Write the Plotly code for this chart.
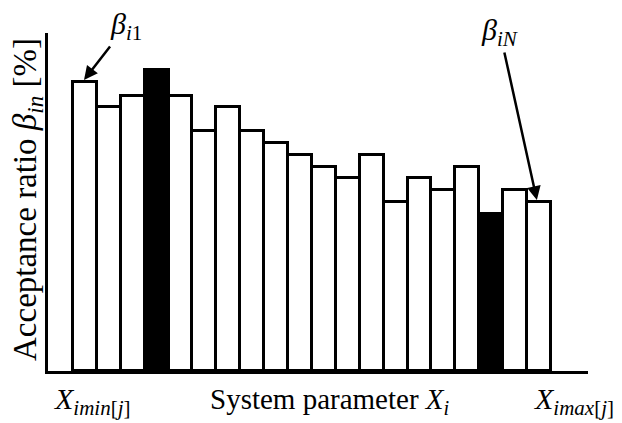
import plotly.graph_objects as go

# Data (acceptance ratio, % of axis height)
positions = list(range(1, 21))
ratios = [85.5, 78, 81.5, 89, 81.5, 71, 78, 71, 67.5, 64,
          60.5, 57, 64, 50, 57, 53.5, 60.5, 46.5, 53.5, 50]
highlight = [4, 18]  # black bars

fill_colors = ["black" if p in highlight else "white" for p in positions]

fig = go.Figure()
fig.add_trace(go.Bar(
    x=positions, y=ratios,
    marker=dict(color=fill_colors, line=dict(color="black", width=3)),
    width=1.0, showlegend=False, hoverinfo="skip",
))

FONT = "Liberation Serif"

# page has an 8px body margin: figure is shifted by 8px, so compensate
fig.update_layout(
    width=614, height=415,
    margin=dict(l=40, r=34, t=25, b=52),
    paper_bgcolor="white", plot_bgcolor="white",
    bargap=0,
    font=dict(family=FONT, color="black", size=29),
    xaxis=dict(range=[-0.546, 22.05], showline=True, linecolor="black", linewidth=3,
               showticklabels=False, ticks="", showgrid=False, zeroline=False),
    yaxis=dict(range=[0, 100], showline=True, linecolor="black", linewidth=3,
               showticklabels=False, ticks="", showgrid=False, zeroline=False),
)

# Arrow annotations for first and last bars
fig.add_annotation(x=positions[0] - 0.04, y=86.1, xref="x", yref="y",
                   text="<i>β<sub>i</sub></i><sub>1</sub>", showarrow=True,
                   ax=42, ay=-54, arrowhead=2, arrowsize=1.1, arrowwidth=2.5,
                   arrowcolor="black", xanchor="center", yanchor="middle",
                   font=dict(size=30, family=FONT))
fig.add_annotation(x=positions[-1] - 0.09, y=50.6, xref="x", yref="y",
                   text="<i>β<sub>iN</sub></i>", showarrow=True,
                   ax=-37, ay=-168, arrowhead=2, arrowsize=1.1, arrowwidth=2.5,
                   arrowcolor="black", xanchor="center", yanchor="middle",
                   font=dict(size=30, family=FONT))

# Axis labels (positions in plot-area fractions)
def px(xp):
    return (xp - 48) / 540

def py(yp):
    return (371 - yp) / 338

fig.add_annotation(x=px(27), y=py(200), xref="paper", yref="paper",
                   text="Acceptance ratio <i>β<sub>in</sub></i> [%]", textangle=-90,
                   xanchor="center", yanchor="middle",
                   showarrow=False, font=dict(size=33, family=FONT))
fig.add_annotation(x=px(92), y=py(401), xref="paper", yref="paper",
                   text="<i>X<sub>imin</sub></i><sub>[<i>j</i>]</sub>",
                   xanchor="center", yanchor="middle",
                   showarrow=False, font=dict(size=30, family=FONT))
fig.add_annotation(x=px(330), y=py(401), xref="paper", yref="paper",
                   text="System parameter <i>X<sub>i</sub></i>",
                   xanchor="center", yanchor="middle",
                   showarrow=False, font=dict(size=29, family=FONT))
fig.add_annotation(x=px(574), y=py(401), xref="paper", yref="paper",
                   text="<i>X<sub>imax</sub></i><sub>[<i>j</i>]</sub>",
                   xanchor="center", yanchor="middle",
                   showarrow=False, font=dict(size=30, family=FONT))

fig.write_html("out.html")
